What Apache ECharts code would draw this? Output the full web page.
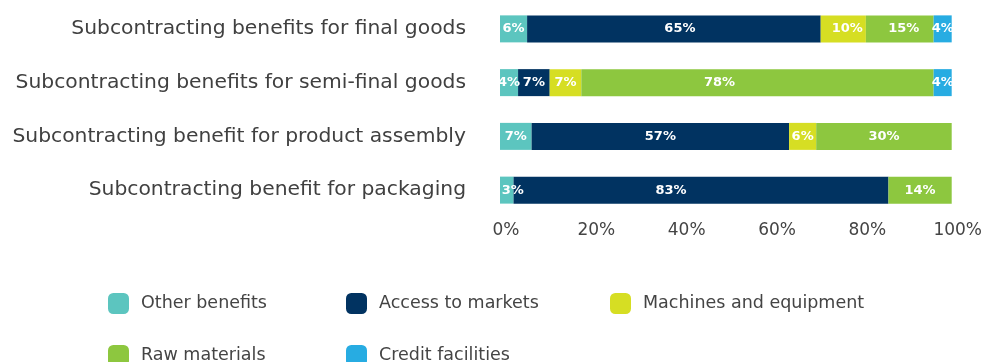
<!DOCTYPE html>
<html>
<head>
<meta charset="utf-8">
<script src="https://cdn.jsdelivr.net/npm/echarts@6/dist/echarts.min.js"></script>
<style>
  html, body { margin: 0; padding: 0; background: #ffffff; }
  #chart { width: 985px; height: 362px; }
</style>
</head>
<body>
<div id="chart"></div>
<script>
// Categories, top to bottom
const categories = [
  'Subcontracting benefits for final goods',
  'Subcontracting benefits for semi-final goods',
  'Subcontracting benefit for product assembly',
  'Subcontracting benefit for packaging'
];

// Share of respondents (%) per benefit, in category order
const otherBenefits      = [6, 4, 7, 3];
const accessToMarkets    = [65, 7, 57, 83];
const machinesEquipment  = [10, 7, 6, 0];
const rawMaterials       = [15, 78, 30, 14];
const creditFacilities   = [4, 4, 0, 0];

const xTicks = [0, 20, 40, 60, 80, 100];

const seriesDefs = [
  { name: 'Other benefits',         data: otherBenefits,     color: '#5CC5BF' },
  { name: 'Access to markets',      data: accessToMarkets,   color: '#013361' },
  { name: 'Machines and equipment', data: machinesEquipment, color: '#D6DE23' },
  { name: 'Raw materials',          data: rawMaterials,      color: '#8DC73F' },
  { name: 'Credit facilities',      data: creditFacilities,  color: '#27ACE2' }
];

// label nudges (series index -> category index -> dx in px)
const labelShift = {
  0: { 3: 6 },
  1: { 0: 6, 3: -30 },
  2: { 0: 4 },
  3: { 0: 4, 1: -38 }
};

const FONT = '"DejaVu Sans", sans-serif';

// legend slots: two rows of columns
const legendSlots = [
  { left: 108, top: 293 },
  { left: 346, top: 293 },
  { left: 610, top: 293 },
  { left: 108, top: 345 },
  { left: 346, top: 345 }
];

const chart = echarts.init(document.getElementById('chart'), null, { renderer: 'canvas' });

chart.setOption({
  animation: false,
  backgroundColor: '#ffffff',
  grid: { left: 500, right: 32, top: 2, height: 215, containLabel: false },
  xAxis: {
    type: 'value',
    min: 0,
    max: 100,
    interval: 20,
    axisLine: { show: false },
    axisTick: { show: false },
    splitLine: { show: false },
    axisLabel: {
      margin: 5,
      color: '#444444',
      fontFamily: FONT,
      fontSize: 17,
      padding: [0, 0, 0, 12],
      formatter: v => (xTicks.includes(v) ? v + '%' : '')
    }
  },
  yAxis: {
    type: 'category',
    inverse: true,
    data: categories,
    axisLine: { show: false },
    axisTick: { show: false },
    axisLabel: {
      margin: 34,
      color: '#404040',
      fontFamily: FONT,
      fontSize: 20.3
    }
  },
  legend: seriesDefs.map((s, i) => ({
    data: [s.name],
    left: legendSlots[i].left,
    top: legendSlots[i].top,
    padding: 0,
    icon: 'roundRect',
    itemWidth: 21,
    itemHeight: 21,
    selectedMode: false,
    textStyle: {
      color: '#444444',
      fontFamily: FONT,
      fontSize: 17.5,
      padding: [0, 0, 0, 7]
    }
  })),
  series: seriesDefs.map((s, si) => ({
    name: s.name,
    type: 'bar',
    stack: 'total',
    barWidth: 27,
    itemStyle: { color: s.color },
    data: s.data.map((v, ci) => {
      const dx = labelShift[si] && labelShift[si][ci];
      return dx ? { value: v, label: { offset: [dx, 0] } } : v;
    }),
    label: {
      show: true,
      position: 'inside',
      color: '#ffffff',
      fontFamily: FONT,
      fontWeight: 'bold',
      fontSize: 13,
      formatter: p => (p.value > 0 ? p.value + '%' : '')
    }
  }))
});
</script>
</body>
</html>
